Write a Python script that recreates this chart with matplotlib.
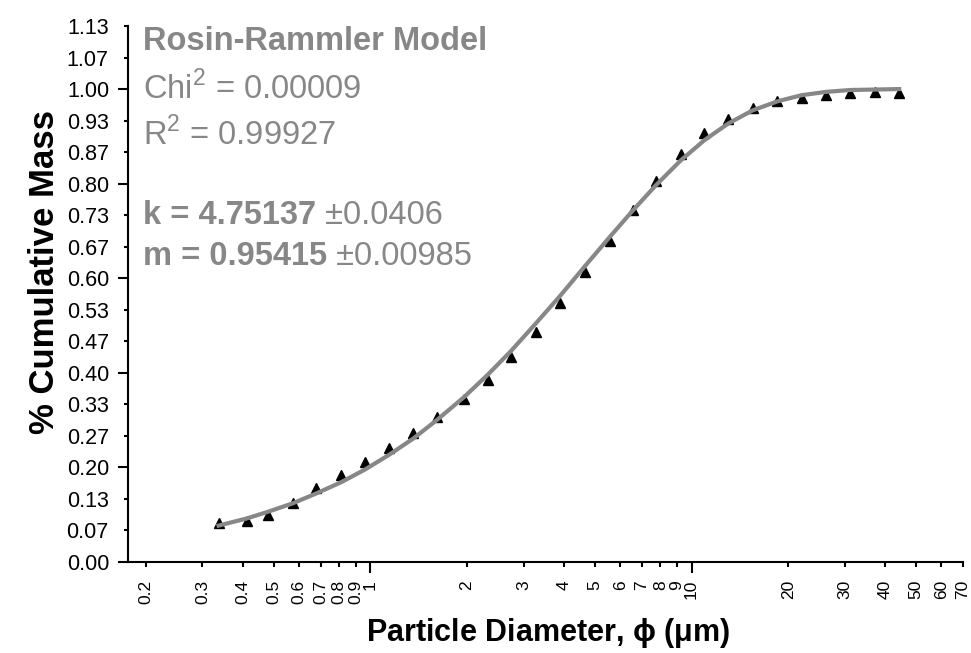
import numpy as np
import matplotlib
matplotlib.use("Agg")
import matplotlib.pyplot as plt
from matplotlib.ticker import FixedLocator, FixedFormatter

plt.rcParams['font.family'] = ['Liberation Sans', 'DejaVu Sans']
plt.rcParams['mathtext.fontset'] = 'custom'
plt.rcParams['mathtext.rm'] = 'Liberation Sans'
plt.rcParams['mathtext.bf'] = 'Liberation Sans:bold'

# measured points (particle diameter in um, cumulative mass fraction)
diam = [0.337, 0.412, 0.479, 0.573, 0.679, 0.813, 0.965, 1.146, 1.36, 1.61,
        1.96, 2.32, 2.74, 3.28, 3.89, 4.65, 5.56, 6.56, 7.73, 9.25,
        10.97, 13.0, 15.5, 18.5, 22.0, 26.2, 31.2, 37.3, 44.3]
mass = [0.082, 0.087, 0.099, 0.125, 0.156, 0.184, 0.211, 0.241, 0.273, 0.307,
        0.345, 0.385, 0.433, 0.486, 0.548, 0.613, 0.679, 0.744, 0.805, 0.863,
        0.907, 0.937, 0.960, 0.975, 0.981, 0.987, 0.992, 0.994, 0.992]

# fitted Rosin-Rammler curve
fit_d = diam
fit_m = [0.077, 0.092, 0.106, 0.124, 0.145, 0.169, 0.196, 0.227, 0.261, 0.300,
         0.349, 0.396, 0.446, 0.505, 0.562, 0.625, 0.687, 0.743, 0.796, 0.849,
         0.892, 0.927, 0.955, 0.974, 0.987, 0.994, 0.998, 0.999, 1.000]

x_major = [1, 10]
x_minor = [0.2, 0.3, 0.4, 0.5, 0.6, 0.7, 0.8, 0.9,
           2, 3, 4, 5, 6, 7, 8, 9, 20, 30, 40, 50, 60, 70]
x_minor_labels = ['0.2', '0.3', '0.4', '0.5', '0.6', '0.7', '0.8', '0.9',
                  '2', '3', '4', '5', '6', '7', '8', '9',
                  '20', '30', '40', '50', '60', '70']

gray = '#878787'

fig = plt.figure(figsize=(9.71, 6.53), dpi=100)
ax = fig.add_axes([128 / 971, 1 - 562 / 653, (963 - 128) / 971, (562 - 26) / 653])

ax.plot(diam, mass, linestyle='none', marker='^', markersize=7, color='black', zorder=2)
ax.plot(fit_d, fit_m, color=gray, lw=3, zorder=3)

ax.set_xscale('log')
ax.set_xlim(0.176, 70)
ax.set_ylim(0, 17 / 15)

ax.spines['top'].set_visible(False)
ax.spines['right'].set_visible(False)
ax.spines['left'].set_linewidth(1.5)
ax.spines['bottom'].set_linewidth(1.5)

# x ticks
ax.xaxis.set_major_locator(FixedLocator(x_major))
ax.xaxis.set_major_formatter(FixedFormatter(['1', '10']))
ax.xaxis.set_minor_locator(FixedLocator(x_minor))
ax.xaxis.set_minor_formatter(FixedFormatter(x_minor_labels))
ax.tick_params(axis='x', which='major', length=8, width=1.5, pad=5,
               labelsize=12.5, labelrotation=90)
ax.tick_params(axis='x', which='minor', length=3.8, width=1.5, pad=9.2,
               labelsize=12.5, labelrotation=90)
for lab in ax.get_xticklabels(which='both'):
    lab.set_va('top')

# y ticks every 1/15, long ones every 0.2
y_all = np.arange(18) / 15
y_major = [v for i, v in enumerate(y_all) if i % 3 == 0]
y_minor = [v for i, v in enumerate(y_all) if i % 3 != 0]
ax.yaxis.set_major_locator(FixedLocator(y_major))
ax.yaxis.set_major_formatter(FixedFormatter(['%.2f' % v for v in y_major]))
ax.yaxis.set_minor_locator(FixedLocator(y_minor))
ax.yaxis.set_minor_formatter(FixedFormatter(['%.2f' % v for v in y_minor]))
ax.tick_params(axis='y', which='major', length=7, width=1.5, pad=6.5, labelsize=15.5)
ax.tick_params(axis='y', which='minor', length=3, width=1.5, pad=10.8, labelsize=15.5)

fig.text(548 / 971, 1 - 633 / 653, r'Particle Diameter, $\mathbf{\phi}$ (μm)',
         ha='center', va='center', fontsize=22, fontweight='bold')
fig.text(45 / 971, 1 - 272 / 653, '% Cumulative Mass', rotation=90,
         ha='center', va='center', fontsize=25, fontweight='bold')

# fit annotation
tx = 143 / 971
fig.text(tx, 1 - 50 / 653, 'Rosin-Rammler Model', fontsize=23.5, fontweight='bold',
         color=gray, va='baseline')
fig.text(tx, 1 - 99 / 653, r'Chi$^2$ = 0.00009', fontsize=23.5, color=gray, va='baseline')
fig.text(tx, 1 - 145 / 653, r'R$^2$ = 0.99927', fontsize=23.5, color=gray, va='baseline')
k_txt = fig.text(tx, 1 - 224 / 653, 'k = 4.75137', fontsize=23.5, fontweight='bold',
                 color=gray, va='baseline')
m_txt = fig.text(tx, 1 - 265 / 653, 'm = 0.95415', fontsize=23.5, fontweight='bold',
                 color=gray, va='baseline')
fig.canvas.draw()
for t, err in [(k_txt, ' ±0.0406'), (m_txt, ' ±0.00985')]:
    bb = t.get_window_extent().transformed(fig.transFigure.inverted())
    fig.text(bb.x1, t.get_position()[1], err, fontsize=23.5, color=gray, va='baseline')

fig.savefig('out.png', dpi=100)
